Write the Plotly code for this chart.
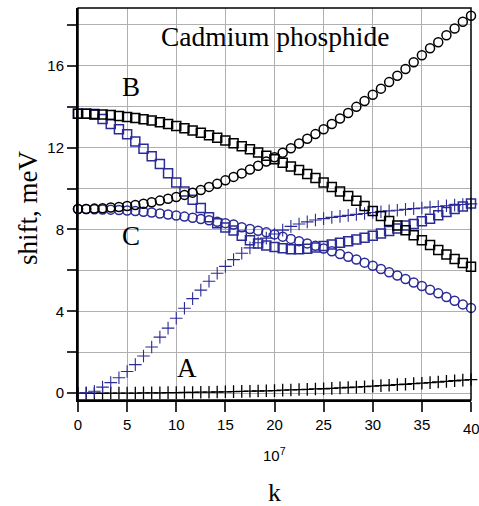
import plotly.graph_objects as go

k = [i * 40 / 48 for i in range(49)]

black_circles = [9.00, 9.00, 9.02, 9.04, 9.07, 9.10, 9.15, 9.20, 9.26, 9.33, 9.41, 9.50, 9.59, 9.69, 9.80, 9.93,
                 10.08, 10.23, 10.40, 10.57, 10.74, 10.93, 11.11, 11.32, 11.53, 11.75, 11.97, 12.20, 12.43, 12.66,
                 12.90, 13.15, 13.42, 13.69, 13.99, 14.28, 14.58, 14.88, 15.20, 15.51, 15.84, 16.17, 16.51, 16.85,
                 17.15, 17.49, 17.82, 18.15, 18.44]
black_squares = [13.65, 13.65, 13.64, 13.62, 13.59, 13.55, 13.50, 13.45, 13.39, 13.32, 13.24, 13.15, 13.05, 12.95,
                 12.84, 12.72, 12.60, 12.48, 12.35, 12.21, 12.07, 11.92, 11.76, 11.60, 11.43, 11.26, 11.08, 10.90,
                 10.71, 10.51, 10.30, 10.08, 9.86, 9.63, 9.40, 9.15, 8.90, 8.66, 8.42, 8.19, 7.96, 7.72, 7.48, 7.24,
                 7.00, 6.78, 6.56, 6.36, 6.18]
blue_squares = [13.65, 13.65, 13.60, 13.40, 13.15, 12.90, 12.65, 12.30, 11.95, 11.58, 11.20, 10.75, 10.30, 9.85,
                9.45, 9.05, 8.60, 8.30, 8.10, 7.95, 7.70, 7.48, 7.32, 7.22, 7.15, 7.08, 7.04, 7.03, 7.06, 7.12, 7.19,
                7.27, 7.35, 7.43, 7.51, 7.60, 7.69, 7.80, 7.92, 8.05, 8.20, 8.27, 8.40, 8.53, 8.70, 8.86, 9.00, 9.12,
                9.27]
blue_circles = [9.00, 9.00, 8.99, 8.98, 8.97, 8.95, 8.93, 8.90, 8.87, 8.83, 8.78, 8.73, 8.68, 8.63, 8.57, 8.51,
                8.45, 8.38, 8.31, 8.24, 8.11, 8.02, 7.94, 7.86, 7.76, 7.65, 7.54, 7.43, 7.32, 7.20, 7.07, 6.94, 6.80,
                6.67, 6.53, 6.38, 6.23, 6.07, 5.91, 5.75, 5.58, 5.41, 5.24, 5.06, 4.88, 4.70, 4.52, 4.34, 4.17]
blue_crosses = [0.00, 0.02, 0.10, 0.30, 0.52, 0.76, 1.06, 1.40, 1.82, 2.26, 2.74, 3.18, 3.66, 4.15, 4.62, 5.04,
                5.47, 5.86, 6.20, 6.53, 6.84, 7.10, 7.35, 7.58, 7.78, 7.97, 8.15, 8.27, 8.37, 8.46, 8.53, 8.59, 8.64,
                8.69, 8.74, 8.78, 8.83, 8.87, 8.91, 8.94, 8.98, 9.02, 9.05, 9.09, 9.12, 9.16, 9.19, 9.22, 9.25]
black_crosses = [0.00, 0.00, 0.00, 0.00, 0.01, 0.01, 0.01, 0.01, 0.02, 0.02, 0.02, 0.03, 0.03, 0.04, 0.04, 0.05,
                 0.05, 0.06, 0.07, 0.08, 0.09, 0.10, 0.11, 0.12, 0.13, 0.15, 0.16, 0.18, 0.19, 0.21, 0.22, 0.24,
                 0.26, 0.28, 0.30, 0.32, 0.35, 0.37, 0.39, 0.42, 0.44, 0.47, 0.49, 0.52, 0.55, 0.58, 0.61, 0.64, 0.67]

y_ticks = [0, 2, 4, 6, 8, 10, 12, 14, 16, 18]
y_labels = ["0", "", "4", "", "8", "", "12", "", "16", ""]
x_ticks = [0, 5, 10, 15, 20, 25, 30, 35, 40]
x_labels = ["0", "5", "10", "15", "20", "25", "30", "35", ""]
x_edge_label = "40"

BLACK = "#000000"
BLUE = "#2b2b96"

series = [
    (black_crosses, BLACK, "cross-thin-open", 9, 1.3),
    (blue_crosses, BLUE, "cross-thin-open", 9, 1.1),
    (blue_circles, BLUE, "circle-open", 9, 1.5),
    (blue_squares, BLUE, "square-open", 9, 1.5),
    (black_squares, BLACK, "square-open", 9, 1.5),
    (black_circles, BLACK, "circle-open", 9, 1.5),
]

fig = go.Figure()
for vals, col, sym, sz, lw in series:
    fig.add_trace(go.Scatter(
        x=k, y=vals, mode="markers", cliponaxis=False,
        marker=dict(symbol=sym, size=sz, color=col, line=dict(color=col, width=lw)),
        showlegend=False,
    ))

serif = "Liberation Serif, Times New Roman, Times, serif"
sans = "Liberation Sans, Arial, Helvetica, sans-serif"

fig.update_layout(
    width=479, height=506,
    margin=dict(l=78, r=8, t=8, b=106),
    paper_bgcolor="white", plot_bgcolor="white",
    xaxis=dict(range=[0, 40], tickmode="array", tickvals=x_ticks, ticktext=x_labels, automargin=False,
               ticks="outside", ticklen=10, tickwidth=1.5, tickcolor="#333",
               showgrid=True, gridcolor="#b0b0b0", gridwidth=1.2,
               showline=True, linecolor="black", linewidth=2, zeroline=False,
               tickfont=dict(family=sans, size=15, color="black")),
    yaxis=dict(range=[-0.33, 18.82], tickmode="array", tickvals=y_ticks, ticktext=y_labels, automargin=False,
               ticks="outside", ticklen=9, tickwidth=1.5, tickcolor="#333",
               showgrid=True, gridcolor="#b0b0b0", gridwidth=1.2,
               showline=True, linecolor="black", linewidth=2, zeroline=False,
               tickfont=dict(family=sans, size=15, color="black")),
    shapes=[dict(type="rect", xref="paper", yref="paper", x0=0, x1=1, y0=0, y1=1,
                 line=dict(color="black", width=1.5), layer="above")],
    annotations=[
        dict(text="Cadmium phosphide", x=20.1, y=17.45, xref="x", yref="y", showarrow=False,
             font=dict(family=serif, size=27.5, color="black")),
        dict(text="B", x=5.4, y=14.95, xref="x", yref="y", showarrow=False,
             font=dict(family=serif, size=27, color="black")),
        dict(text="C", x=5.4, y=7.7, xref="x", yref="y", showarrow=False,
             font=dict(family=serif, size=27, color="black")),
        dict(text="A", x=11.1, y=1.25, xref="x", yref="y", showarrow=False,
             font=dict(family=serif, size=27, color="black")),
        dict(text=x_edge_label, x=40, y=-0.073, xref="x", yref="paper", showarrow=False,
             xanchor="center", yanchor="middle", font=dict(family=sans, size=15, color="black")),
        dict(text="10<sup>7</sup>", x=0.5, y=-0.14, xref="paper", yref="paper", showarrow=False,
             yanchor="middle", font=dict(family=sans, size=15, color="black")),
        dict(text="k", x=0.5, y=-0.237, xref="paper", yref="paper", showarrow=False,
             yanchor="middle", font=dict(family=serif, size=26, color="black")),
        dict(text="shift, meV", x=-0.127, y=0.49, xref="paper", yref="paper", showarrow=False,
             textangle=-90, xanchor="center", yanchor="middle",
             font=dict(family=serif, size=27, color="black")),
    ],
)

fig.write_html("out.html")
